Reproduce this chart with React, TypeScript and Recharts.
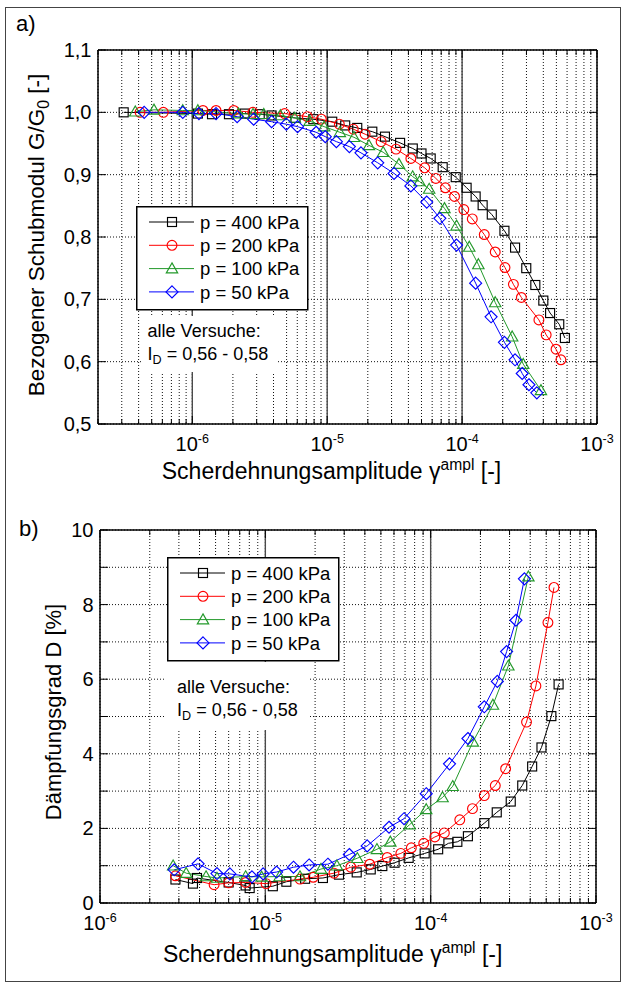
import React from 'react';
import { LineChart, Line, XAxis, YAxis, CartesianGrid, ReferenceLine } from 'recharts';

const FONT = '"Liberation Sans", Arial, Helvetica, sans-serif';

// ---------- series meta ----------
const seriesNames = ['p = 400 kPa', 'p = 200 kPa', 'p = 100 kPa', 'p = 50 kPa'];
const seriesColors = ['#000000', '#ff0000', '#23992b', '#0000ff'];
const seriesShapes = ['square', 'circle', 'triangle', 'diamond'];

// ---------- chart a) G/G0 vs shear strain amplitude ----------
const a400: number[][] = [
  [3.1e-7, 1.0], [1.1e-6, 0.998], [1.4e-6, 0.997], [1.87e-6, 0.997], [2.45e-6, 0.998], [3.16e-6, 0.997],
  [3.87e-6, 0.995], [5.82e-6, 0.991], [7.89e-6, 0.989], [1.09e-5, 0.985], [1.36e-5, 0.979], [1.67e-5, 0.975],
  [2.16e-5, 0.969], [2.68e-5, 0.961], [3.47e-5, 0.951], [4.31e-5, 0.942], [5.0e-5, 0.934], [5.85e-5, 0.926],
  [7.18e-5, 0.912], [8.97e-5, 0.896], [1.08e-4, 0.879], [1.26e-4, 0.865], [1.42e-4, 0.851], [1.66e-4, 0.836],
  [2.06e-4, 0.81], [2.47e-4, 0.783], [2.99e-4, 0.75], [3.49e-4, 0.723], [4.0e-4, 0.698], [4.49e-4, 0.678],
  [5.25e-4, 0.66], [5.78e-4, 0.638],
];
const a200: number[][] = [
  [4.1e-7, 1.0], [6.1e-7, 1.0], [1.2e-6, 1.003], [1.5e-6, 1.003], [2.03e-6, 1.003], [2.81e-6, 1.0],
  [4.84e-6, 0.998], [7.13e-6, 0.993], [9.05e-6, 0.989], [1.23e-5, 0.981], [1.56e-5, 0.973], [1.91e-5, 0.965],
  [2.51e-5, 0.953], [3.24e-5, 0.941], [4.17e-5, 0.926], [5.28e-5, 0.911], [6.39e-5, 0.894], [7.52e-5, 0.879],
  [8.79e-5, 0.865], [1.03e-4, 0.844], [1.19e-4, 0.829], [1.46e-4, 0.804], [1.76e-4, 0.776], [2.08e-4, 0.751],
  [2.4e-4, 0.724], [2.75e-4, 0.703], [3.71e-4, 0.667], [4.2e-4, 0.643], [4.97e-4, 0.62], [5.4e-4, 0.603],
];
const a100: number[][] = [
  [3.78e-7, 1.001], [5.2e-7, 1.004], [8.5e-7, 1.003], [1.1e-6, 1.003], [2.2e-6, 0.998], [2.82e-6, 0.997],
  [3.39e-6, 0.997], [4.5e-6, 0.995], [5.75e-6, 0.991], [7.4e-6, 0.986], [9.5e-6, 0.977], [1.24e-5, 0.968],
  [1.58e-5, 0.96], [2.04e-5, 0.947], [2.6e-5, 0.936], [3.4e-5, 0.917], [4.3e-5, 0.897], [4.83e-5, 0.889],
  [5.7e-5, 0.877], [7.4e-5, 0.846], [9.1e-5, 0.818], [1.13e-4, 0.784], [1.32e-4, 0.756], [1.76e-4, 0.695],
  [2.35e-4, 0.64], [2.84e-4, 0.596], [3.84e-4, 0.554],
];
const a50: number[][] = [
  [4.4e-7, 1.0], [8.5e-7, 1.0], [1.12e-6, 0.998], [1.5e-6, 0.998], [2.15e-6, 0.993], [2.85e-6, 0.989],
  [3.87e-6, 0.985], [4.98e-6, 0.981], [6.03e-6, 0.977], [8.28e-6, 0.968], [9.68e-6, 0.961], [1.17e-5, 0.953],
  [1.46e-5, 0.945], [1.78e-5, 0.935], [2.37e-5, 0.919], [3.13e-5, 0.902], [4.17e-5, 0.882], [5.47e-5, 0.856],
  [6.84e-5, 0.83], [9.1e-5, 0.787], [1.26e-4, 0.726], [1.64e-4, 0.672], [2.06e-4, 0.631], [2.47e-4, 0.603],
  [2.79e-4, 0.581], [3.13e-4, 0.563], [3.58e-4, 0.55],
];

// ---------- chart b) damping ratio vs shear strain amplitude ----------
const b400: number[][] = [
  [2.86e-6, 0.63], [3.65e-6, 0.52], [3.86e-6, 0.67], [6.0e-6, 0.55], [7.6e-6, 0.47], [8.04e-6, 0.4],
  [1.11e-5, 0.45], [1.34e-5, 0.57], [1.74e-5, 0.65], [2.23e-5, 0.67], [2.79e-5, 0.76], [3.57e-5, 0.82],
  [4.34e-5, 0.9], [5.1e-5, 0.99], [6.05e-5, 1.08], [7.36e-5, 1.21], [9.2e-5, 1.33], [1.11e-4, 1.44],
  [1.28e-4, 1.6], [1.45e-4, 1.64], [1.68e-4, 1.79], [2.11e-4, 2.14], [2.51e-4, 2.43], [3.05e-4, 2.72],
  [3.58e-4, 3.15], [4.11e-4, 3.66], [4.68e-4, 4.17], [5.37e-4, 5.01], [5.94e-4, 5.86],
];
const b200: number[][] = [
  [2.86e-6, 0.73], [4.9e-6, 0.49], [6.0e-6, 0.54], [7.6e-6, 0.55], [1.01e-5, 0.52], [1.62e-5, 0.64],
  [1.95e-5, 0.69], [2.6e-5, 0.8], [3.29e-5, 0.96], [4.28e-5, 1.04], [5.46e-5, 1.22], [6.6e-5, 1.33],
  [7.64e-5, 1.48], [9.08e-5, 1.6], [1.06e-4, 1.77], [1.21e-4, 1.88], [1.5e-4, 2.23], [1.79e-4, 2.53],
  [2.11e-4, 2.88], [2.46e-4, 3.15], [2.84e-4, 3.6], [3.8e-4, 4.85], [4.33e-4, 5.82], [5.12e-4, 7.52],
  [5.57e-4, 8.46],
];
const b100: number[][] = [
  [2.77e-6, 1.0], [3.32e-6, 0.8], [4.38e-6, 0.71], [5.1e-6, 0.67], [7.6e-6, 0.71], [9.5e-6, 0.7],
  [1.22e-5, 0.71], [1.62e-5, 0.71], [2.17e-5, 0.91], [2.71e-5, 1.0], [3.6e-5, 1.2], [4.73e-5, 1.44],
  [5.7e-5, 1.64], [7.46e-5, 2.1], [9.4e-5, 2.51], [1.18e-4, 2.83], [1.36e-4, 3.13], [1.8e-4, 4.32],
  [2.38e-4, 5.31], [2.95e-4, 6.36], [3.9e-4, 8.75],
];
const b50: number[][] = [
  [2.81e-6, 0.89], [3.92e-6, 1.05], [5.1e-6, 0.79], [6.1e-6, 0.78], [8.3e-6, 0.7], [9.7e-6, 0.78],
  [1.17e-5, 0.83], [1.48e-5, 0.96], [1.84e-5, 1.02], [2.39e-5, 1.04], [3.22e-5, 1.3], [4.13e-5, 1.53],
  [5.6e-5, 2.03], [6.9e-5, 2.26], [9.4e-5, 2.93], [1.3e-4, 3.73], [1.68e-4, 4.41], [2.11e-4, 5.26],
  [2.53e-4, 5.94], [2.88e-4, 6.74], [3.28e-4, 7.58], [3.69e-4, 8.69],
];

// ---------- axes ----------
const xDomainA = [2e-7, 1e-3];
const xDomainB = [1e-6, 1e-3];
const xMajors = [1e-6, 1e-5, 1e-4, 1e-3];
const xMajorLabels = ['-6', '-5', '-4', '-3'];
const minorMultipliers = [2, 3, 4, 5, 6, 7, 8, 9];
const decadesA = [1e-7, 1e-6, 1e-5, 1e-4];
const decadesB = [1e-6, 1e-5, 1e-4];
const solidDecadesA = [1e-6, 1e-5, 1e-4];
const solidDecadesB = [1e-5, 1e-4];

const yTicksA = [0.5, 0.6, 0.7, 0.8, 0.9, 1.0, 1.1];
const yTickLabelsA = ['0,5', '0,6', '0,7', '0,8', '0,9', '1,0', '1,1'];
const yTicksB = [0, 1, 2, 3, 4, 5, 6, 7, 8, 9, 10];
const yTickLabelsB = ['0', '', '2', '', '4', '', '6', '', '8', '', '10'];

function buildXTicks(decades: number[], domain: number[]) {
  const out: number[] = [];
  decades.forEach((d) => {
    [1, ...minorMultipliers].forEach((m) => {
      const v = Number((m * d).toPrecision(6));
      if (v >= domain[0] * 0.999 && v <= domain[1] * 1.001) out.push(v);
    });
  });
  if (!out.some((v) => Math.abs(v - domain[1]) / domain[1] < 1e-6)) out.push(domain[1]);
  return out;
}
const xTicksA = buildXTicks(decadesA, xDomainA);
const xTicksB = buildXTicks(decadesB, xDomainB);

const toPts = (arr: number[][]) => arr.map(([x, y]) => ({ x, y }));
const seriesA = [a400, a200, a100, a50].map(toPts);
const seriesB = [b400, b200, b100, b50].map(toPts);

const majorIndex = (v: number) => xMajors.findIndex((m) => Math.abs(v - m) / m < 1e-6);

// ---------- marker ----------
function Marker({ cx, cy, shape, color }: any) {
  if (cx == null || cy == null || Number.isNaN(cx) || Number.isNaN(cy)) return null;
  const sw = 1.15;
  if (shape === 'square') {
    const s = 4.5;
    return <rect x={cx - s} y={cy - s} width={2 * s} height={2 * s} fill="none" stroke={color} strokeWidth={sw} />;
  }
  if (shape === 'circle') {
    return <circle cx={cx} cy={cy} r={4.9} fill="none" stroke={color} strokeWidth={sw} />;
  }
  if (shape === 'triangle') {
    const h = 5.7;
    return (
      <polygon
        points={`${cx},${cy - h} ${cx + h},${cy + h * 0.75} ${cx - h},${cy + h * 0.75}`}
        fill="none" stroke={color} strokeWidth={sw}
      />
    );
  }
  const d = 6;
  return (
    <polygon
      points={`${cx},${cy - d} ${cx + d},${cy} ${cx},${cy + d} ${cx - d},${cy}`}
      fill="none" stroke={color} strokeWidth={sw}
    />
  );
}

// ---------- ticks ----------
const MAJ = 8;
const MIN = 5;
const TICK_FONT = 20;

const BottomTick = (props: any) => {
  const { x, y, payload } = props;
  const mi = majorIndex(payload.value);
  const len = mi >= 0 ? MAJ : MIN;
  return (
    <g>
      <line x1={x} x2={x} y1={y} y2={y - len} stroke="#000" strokeWidth={1} />
      {mi >= 0 && (
        <text x={x} y={y + 27} textAnchor="middle" fontSize={TICK_FONT} fontFamily={FONT} fill="#000">
          10<tspan dy={-8} fontSize={12.5}>{xMajorLabels[mi]}</tspan>
        </text>
      )}
    </g>
  );
};
const TopTick = (props: any) => {
  const { x, y, payload } = props;
  const len = majorIndex(payload.value) >= 0 ? MAJ : MIN;
  return <line x1={x} x2={x} y1={y} y2={y + len} stroke="#000" strokeWidth={1} />;
};
const makeLeftTick = (labels: string[]) => (props: any) => {
  const { x, y, index } = props;
  return (
    <g>
      <line x1={x} x2={x + MAJ} y1={y} y2={y} stroke="#000" strokeWidth={1} />
      <text x={x - 6.5} y={y} dy="0.35em" textAnchor="end" fontSize={TICK_FONT} fontFamily={FONT} fill="#000">
        {labels[index]}
      </text>
    </g>
  );
};
const RightTick = (props: any) => {
  const { x, y } = props;
  return <line x1={x} x2={x - MAJ} y1={y} y2={y} stroke="#000" strokeWidth={1} />;
};

// ---------- legend ----------
function LegendBox({ left, top }: any) {
  return (
    <svg width={173} height={105} style={{ display: 'block', position: 'absolute', left, top }}>
      <rect x={0.75} y={0.75} width={171} height={103} fill="#fff" stroke="#000" strokeWidth={1.5} />
      {seriesNames.map((n, i) => {
        const cy = 16 + i * 23.3;
        return (
          <g key={n}>
            <line x1={13} x2={58} y1={cy} y2={cy} stroke={seriesColors[i]} strokeWidth={1} />
            <Marker cx={36} cy={cy} shape={seriesShapes[i]} color={seriesColors[i]} />
            <text x={64} y={cy} dy="0.36em" fontSize={18.5} fontFamily={FONT} fill="#000">{n}</text>
          </g>
        );
      })}
    </svg>
  );
}

const axisLineStyle = { stroke: '#000', strokeWidth: 1.5 };

function Panel({ series, xDomain, xTicks, yDomain, yTicks, yLabels, solidDecades, margin }: any) {
  return (
    <LineChart width={623} height={490} margin={margin}>
      <CartesianGrid stroke="#111" strokeDasharray="1 2" strokeWidth={1} />
      <XAxis
        dataKey="x" type="number" scale="log" domain={xDomain} allowDataOverflow ticks={xTicks} interval={0}
        height={40} tickSize={0} tickMargin={0} tickLine={false} axisLine={axisLineStyle} tick={BottomTick}
      />
      <XAxis
        xAxisId="top" orientation="top" dataKey="x" type="number" scale="log" domain={xDomain} allowDataOverflow
        ticks={xTicks} interval={0} height={1} tickSize={0} tickMargin={0} tickLine={false} axisLine={axisLineStyle}
        tick={TopTick}
      />
      <YAxis
        type="number" domain={yDomain} allowDataOverflow ticks={yTicks} interval={0} width={60} tickSize={0}
        tickMargin={0} tickLine={false} axisLine={axisLineStyle} tick={makeLeftTick(yLabels)}
      />
      <YAxis
        yAxisId="right" orientation="right" type="number" domain={yDomain} allowDataOverflow ticks={yTicks}
        interval={0} width={1} tickSize={0} tickMargin={0} tickLine={false} axisLine={axisLineStyle} tick={RightTick}
      />
      {solidDecades.map((d: number) => (
        <ReferenceLine key={d} x={d} stroke="#4a4a4a" strokeWidth={1.4} />
      ))}
      {series.map((pts: any[], i: number) => (
        <Line
          key={seriesNames[i]}
          name={seriesNames[i]}
          data={pts}
          dataKey="y"
          type="linear"
          stroke={seriesColors[i]}
          strokeWidth={1}
          isAnimationActive={false}
          activeDot={false}
          dot={(p: any) => (
            <Marker key={`m-${i}-${p.index}`} cx={p.cx} cy={p.cy} shape={seriesShapes[i]} color={seriesColors[i]} />
          )}
        />
      ))}
    </LineChart>
  );
}

const textBase: React.CSSProperties = { position: 'absolute', fontFamily: FONT, color: '#000', whiteSpace: 'nowrap' };

export default function App() {
  return (
    <div style={{ position: 'absolute', left: 0, top: 0, width: 623, height: 985, background: '#fff', overflow: 'hidden' }}>
      <div style={{ position: 'absolute', left: 5, top: 7, width: 614, height: 973, border: '1px solid #444' }} />

      <div style={{ position: 'absolute', left: 0, top: 0 }}>
        <Panel
          series={seriesA} xDomain={xDomainA} xTicks={xTicksA} yDomain={[0.5, 1.1]} yTicks={yTicksA}
          yLabels={yTickLabelsA} solidDecades={solidDecadesA}
          margin={{ top: 49, right: 25, bottom: 26, left: 38 }}
        />
      </div>
      <div style={{ position: 'absolute', left: 0, top: 490 }}>
        <Panel
          series={seriesB} xDomain={xDomainB} xTicks={xTicksB} yDomain={[0, 10]} yTicks={yTicksB}
          yLabels={yTickLabelsB} solidDecades={solidDecadesB}
          margin={{ top: 39, right: 26, bottom: 37, left: 40 }}
        />
      </div>

      <LegendBox left={136} top={206} />
      <LegendBox left={167} top={557} />

      {/* panel letters */}
      <div style={{ ...textBase, left: 16, top: 13.4, fontSize: 22, lineHeight: '22px' }}>a)</div>
      <div style={{ ...textBase, left: 19, top: 517.9, fontSize: 22, lineHeight: '22px' }}>b)</div>

      {/* annotations */}
      <div style={{ ...textBase, left: 141, top: 315.5, background: '#fff', padding: '4.4px 10px 4px 6.6px', fontSize: 18, lineHeight: '23px' }}>
        alle Versuche:<br />I<span style={{ fontSize: '0.7em', position: 'relative', top: '0.35em' }}>D</span> = 0,56 - 0,58
      </div>
      <div style={{ ...textBase, left: 166, top: 661.5, background: '#fff', padding: '14.4px 10px 6px 11px', fontSize: 18, lineHeight: '23px' }}>
        alle Versuche:<br />I<span style={{ fontSize: '0.7em', position: 'relative', top: '0.35em' }}>D</span> = 0,56 - 0,58
      </div>

      {/* axis titles */}
      <div style={{ ...textBase, left: 0, width: 663, top: 460, textAlign: 'center', fontSize: 23, lineHeight: '22px' }}>
        Scherdehnungsamplitude γ<span style={{ fontSize: '0.68em', position: 'relative', top: '-0.55em' }}>ampl</span> [-]
      </div>
      <div style={{ ...textBase, left: 0, width: 665.4, top: 943, textAlign: 'center', fontSize: 23, lineHeight: '22px' }}>
        Scherdehnungsamplitude γ<span style={{ fontSize: '0.68em', position: 'relative', top: '-0.55em' }}>ampl</span> [-]
      </div>
      <div style={{ ...textBase, left: 38, top: 235, fontSize: 22.5, lineHeight: '22px', transform: 'translate(-50%, -50%) rotate(-90deg)' }}>
        Bezogener Schubmodul G/G<span style={{ fontSize: '0.7em', position: 'relative', top: '0.3em' }}>0</span> [-]
      </div>
      <div style={{ ...textBase, left: 54, top: 711.5, fontSize: 22, lineHeight: '22px', transform: 'translate(-50%, -50%) rotate(-90deg)' }}>
        Dämpfungsgrad D [%]
      </div>
    </div>
  );
}
